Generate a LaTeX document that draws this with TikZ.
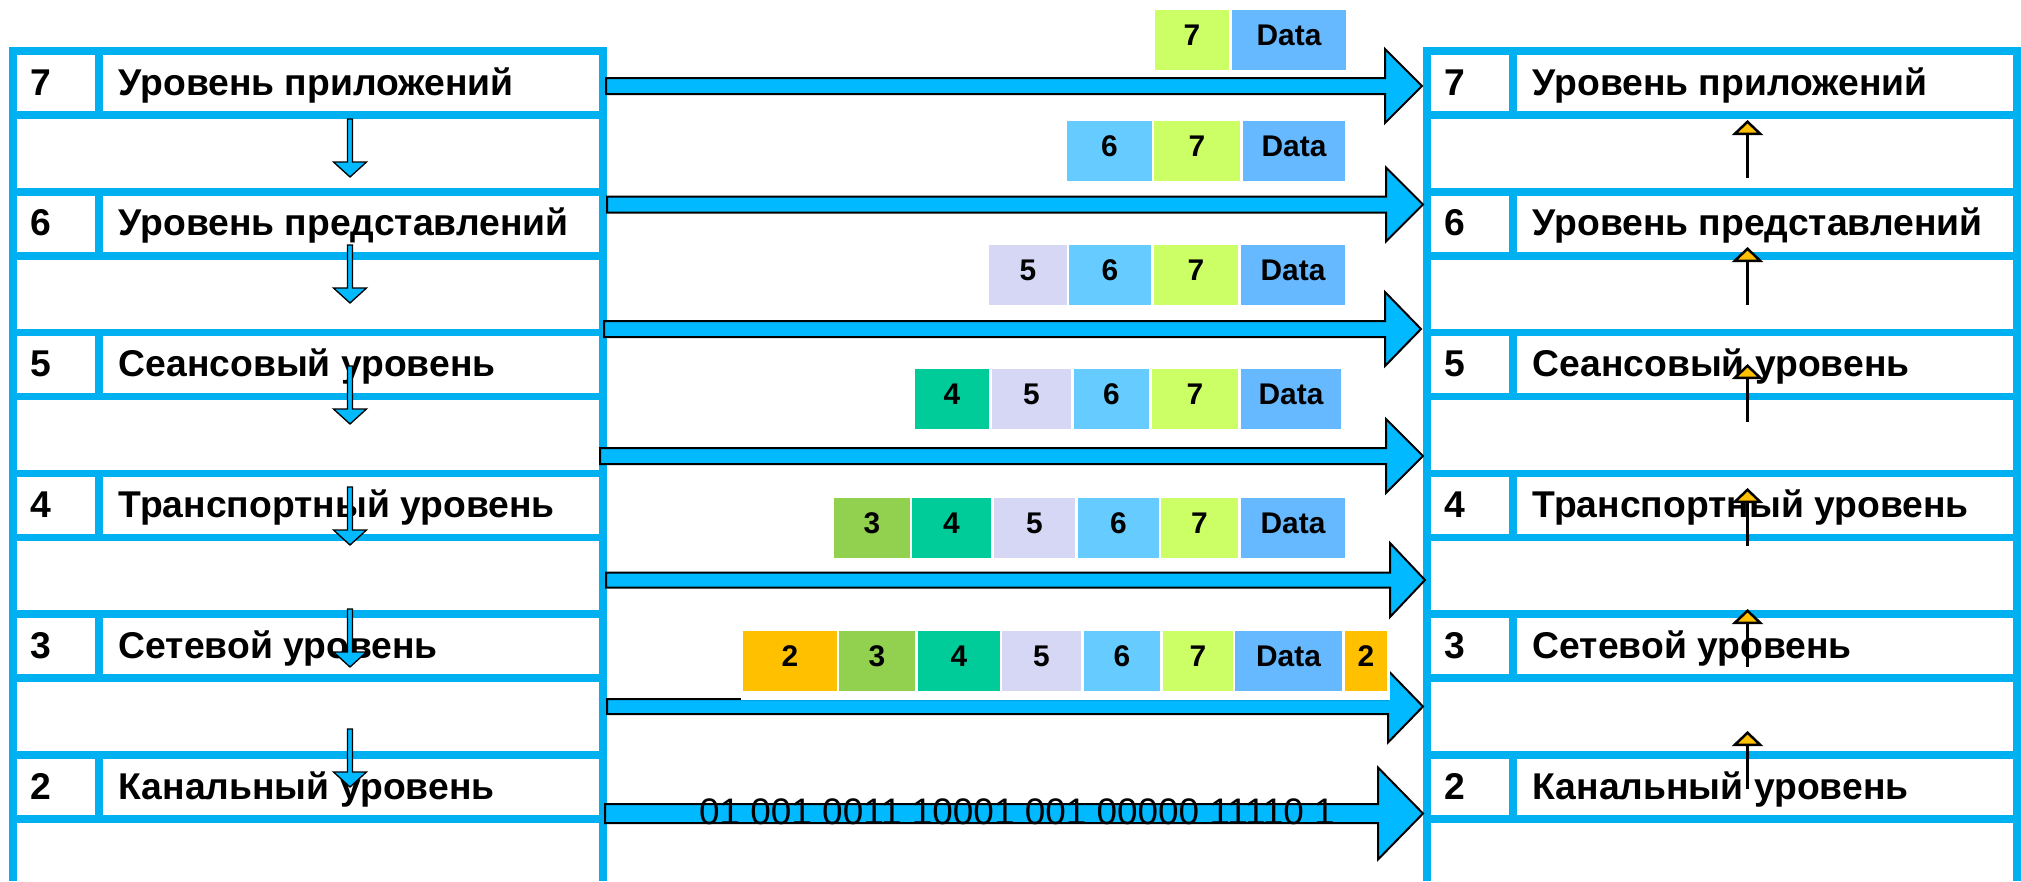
\documentclass[tikz,border=0pt]{standalone}
\usepackage{fontspec}
\setmainfont{Liberation Sans}
\usepackage{tikz}
\usetikzlibrary{arrows.meta}

\definecolor{frame}{RGB}{0,176,240}
\definecolor{pipe}{RGB}{0,185,255}
\definecolor{hdrdata}{RGB}{102,185,255}
\definecolor{hdrsix}{RGB}{102,204,255}
\definecolor{hdrseven}{RGB}{204,255,102}
\definecolor{hdrfive}{RGB}{214,214,245}
\definecolor{hdrfour}{RGB}{0,204,153}
\definecolor{hdrthree}{RGB}{146,208,80}
\definecolor{hdrtwo}{RGB}{255,192,0}

\newcommand{\packet}[3]{%	level, top edge, boxes as left/right/colour/text
	\foreach \l/\r/\col/\txt [count=\k] in {#3}
		\node[hdr, fill=\col, minimum width={(\r-\l)*0.01cm}] (p#1-\k) at ({(\l+\r)/2},{#2+30}) {\txt};
}

\begin{document}
\begin{tikzpicture}[x=0.01cm,y=-0.01cm,
	bar/.style={draw=frame, line width=0.075cm},
	lbl/.style={inner sep=0pt, anchor=base west, font=\fontsize{10.6pt}{12pt}\selectfont\bfseries},
	pipeline/.style={fill=pipe, draw=black, line width=0.02cm, line join=miter},
	hdr/.style={inner sep=0pt, minimum height=0.6cm, text depth=0.1cm, font=\fontsize{8.5pt}{10pt}\selectfont\bfseries},
	bits/.style={inner sep=0pt, font=\fontsize{10.5pt}{12pt}\selectfont},
	down/.style={fill=pipe, draw=black, line width=0.013cm, line join=miter},
	up/.style={draw=black, line width=0.025cm, -{Triangle[width=0.31cm, length=0.15cm, fill=hdrtwo]}}]
	\useasboundingbox (0,0) rectangle (2021,881);
	\def\sw{590}	%width of a stack
	\def\nw{86}	%width of the number column
	\def\lp{140.8}	%distance from one layer to the next
	
	\foreach \x/\s in {13/l,1427/r}{
		\draw[bar] (\x,47.25) -- (\x,881) (\x+\sw,47.25) -- (\x+\sw,881);	%sides of the stack
		\foreach \n/\txt [count=\i from 0] in {7/Уровень приложений,6/Уровень представлений,5/Сеансовый уровень,4/Транспортный уровень,3/Сетевой уровень,2/Канальный уровень}{
			\pgfmathsetmacro\t{51+\i*\lp}
			\draw[bar] (\x,\t) -- ++(\sw,0) (\x,\t+64) -- ++(\sw,0) (\x+\nw,\t) -- ++(0,64);	%layer row
			\node[lbl] (\s num\n) at (\x+17,\t+44) {\n};
			\node[lbl] (\s txt\n) at (\x+\nw+19,\t+44) {\txt};
		}
	}
	
	%wide arrows from sender to receiver
	\foreach \y/\h/\H/\s/\b/\e in {86/8/37/606/1385/1422, 204.5/8/37/607/1386/1423, 329/8/37/604/1385/1421, 456/8/37/600/1386/1423, 580/7.5/37/606/1390/1425, 706.5/7.5/36/607/1388/1423, 813.5/9.5/46/605/1378/1423}
		\draw[pipeline] (\s,\y-\h) -- (\b,\y-\h) -- (\b,\y-\H) -- (\e,\y) -- (\b,\y+\H) -- (\b,\y+\h) -- (\s,\y+\h) -- cycle;
	
	%headers added on the way down
	\packet{7}{10}{1155/1229/hdrseven/7, 1232/1346/hdrdata/Data}
	\packet{6}{121}{1067/1152/hdrsix/6, 1154/1240/hdrseven/7, 1243/1345/hdrdata/Data}
	\packet{5}{245}{989/1067/hdrfive/5, 1069/1151/hdrsix/6, 1154/1238/hdrseven/7, 1241/1345/hdrdata/Data}
	\packet{4}{369}{915/989/hdrfour/4, 992/1071/hdrfive/5, 1074/1149/hdrsix/6, 1152/1238/hdrseven/7, 1241/1341/hdrdata/Data}
	\packet{3}{498}{834/910/hdrthree/3, 912/991/hdrfour/4, 994/1075/hdrfive/5, 1078/1159/hdrsix/6, 1161/1238/hdrseven/7, 1241/1345/hdrdata/Data}
	\fill[white] (741,629) rectangle (1390,700);	%backing of the frame
	\packet{2}{631}{743/837/hdrtwo/2, 839/915/hdrthree/3, 918/1000/hdrfour/4, 1002/1081/hdrfive/5, 1084/1160/hdrsix/6, 1163/1233/hdrseven/7, 1235/1342/hdrdata/Data, 1345/1387/hdrtwo/2}
	\node[bits] (bits) at (1017,812) {01 001 0011 10001 001 00000 11110 1};
	
	\foreach \t in {119,245,366,487,609,729}	%down through the sender
		\draw[down] (347.5,\t) -- (352.5,\t) -- (352.5,\t+43) -- (366.5,\t+43) -- (350,\t+58) -- (333.5,\t+43) -- (347.5,\t+43) -- cycle;
	\foreach \b in {178,305,422,546,667,789}	%up through the receiver
		\draw[up] (1747.5,\b) -- (1747.5,\b-58);
\end{tikzpicture}
\end{document}
